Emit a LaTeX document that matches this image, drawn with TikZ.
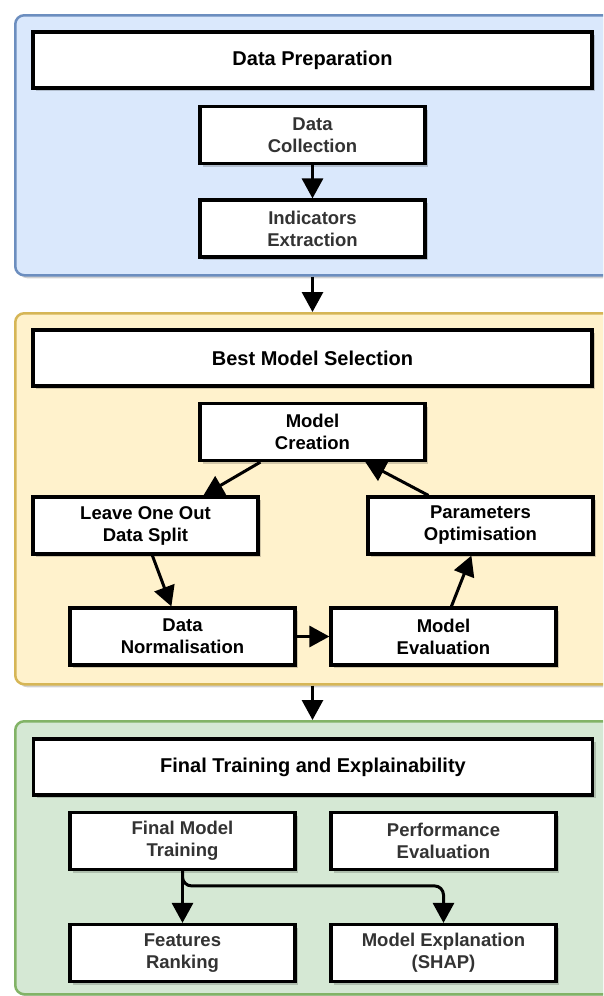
\documentclass[tikz,border=0pt]{standalone}
\usepackage{fontspec}
\setmainfont{Liberation Sans}
\usetikzlibrary{arrows.meta,shadows,calc}
\definecolor{bluefill}{HTML}{DAE8FC}
\definecolor{blueline}{HTML}{6C8EBF}
\definecolor{yellowfill}{HTML}{FFF2CC}
\definecolor{yellowline}{HTML}{D6B656}
\definecolor{greenfill}{HTML}{D5E8D4}
\definecolor{greenline}{HTML}{82B366}
\definecolor{graytext}{HTML}{333333}
\tikzset{
  shadowed/.style={drop shadow={shadow xshift=3pt, shadow yshift=-3pt, fill=black, opacity=0.18}},
  panel/.style={draw, line width=2.5pt, rounded corners=9pt, shadowed, anchor=north west, inner sep=0pt},
  header/.style={draw=black, fill=white, line width=3.2pt, shadowed, minimum width=559pt, minimum height=56pt,
    inner sep=0pt, font=\fontsize{20}{24}\selectfont\bfseries},
  stepbox/.style={draw=black, fill=white, line width=3.2pt, shadowed, minimum width=225pt, minimum height=57pt,
    inner sep=0pt, align=center, font=\fontsize{18.5}{22}\selectfont\bfseries},
  graybox/.style={stepbox, text=graytext},
  arr/.style={line width=3pt, -{Triangle[width=21pt,length=20pt]}},
}
\begin{document}
\begin{tikzpicture}[x=1pt,y=-1pt]
\useasboundingbox (0,0) rectangle (603,996);
\clip (0,0) rectangle (603,996);
% panels
\node[panel, draw=blueline, fill=bluefill, minimum width=640pt, minimum height=260pt] (pblue) at (14,14) {};
\node[panel, draw=yellowline, fill=yellowfill, minimum width=640pt, minimum height=371pt] (pyellow) at (14,312) {};
\node[panel, draw=greenline, fill=greenfill, minimum width=640pt, minimum height=273pt] (pgreen) at (14,720) {};
% data preparation
\node[header] (dp) at (312.5,60) {Data Preparation};
\node[graybox] (dc) at (312.5,135) {Data\\Collection};
\node[graybox] (ie) at (312.5,228.5) {Indicators\\Extraction};
% best model selection
\node[header] (bms) at (312.5,358) {Best Model Selection};
\node[stepbox] (mc) at (312.5,432) {Model\\Creation};
\node[stepbox] (loo) at (145.5,525.5) {Leave One Out\\Data Split};
\node[stepbox] (po) at (480.5,525.5) {Parameters\\Optimisation};
\node[stepbox] (dn) at (182.5,636.5) {Data\\Normalisation};
\node[stepbox] (me) at (443.5,636.5) {Model\\Evaluation};
% final training
\node[header] (ft) at (313,767) {Final Training and Explainability};
\node[graybox] (fmt) at (182.5,841) {Final Model\\Training};
\node[graybox] (pe) at (443.5,841) {Performance\\Evaluation};
\node[graybox] (fr) at (182.5,953) {Features\\Ranking};
\node[graybox] (mex) at (443.5,953) {Model Explanation\\(SHAP)};
% connectors
\draw[arr] (dc.south) -- (ie.north);
\draw[arr] (ie.south |- pblue.south) -- (ie.south |- pyellow.north);
\draw[arr] ([xshift=62pt]mc.south west) -- ([xshift=172pt]loo.north west);
\draw[arr] ([xshift=121pt]loo.south west) -- ([xshift=103pt]dn.north west);
\draw[arr] (dn.east) -- (me.west);
\draw[arr] ([xshift=122pt]me.north west) -- ([xshift=105pt]po.south west);
\draw[arr] ([xshift=62pt]po.north west) -- ([xshift=167pt]mc.south west);
\draw[arr] (ie.south |- pyellow.south) -- (ie.south |- pgreen.north);
\draw[arr] (fmt.south) -- (fr.north);
\coordinate (bend) at ([yshift=37pt]mex.north);
\draw[arr, rounded corners=9pt] (fmt.south) |- (bend) -- (mex.north);
\end{tikzpicture}
\end{document}
